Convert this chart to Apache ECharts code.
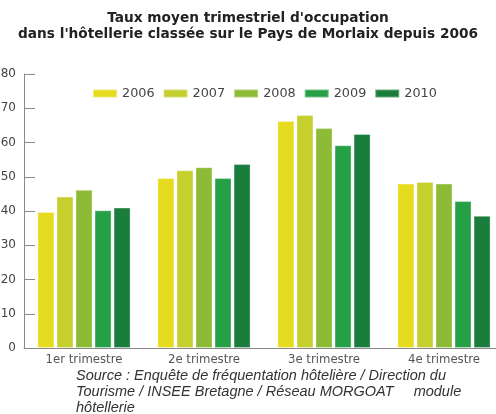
<!DOCTYPE html>
<html><head><meta charset="utf-8">
<script src="https://cdn.jsdelivr.net/npm/echarts@6/dist/echarts.min.js"></script>
<style>html,body{margin:0;padding:0;background:#fff}#c{width:496px;height:414px}</style>
</head><body><div id="c"></div>
<script>
const categories = ['1er trimestre','2e trimestre','3e trimestre','4e trimestre'];
const years = ['2006','2007','2008','2009','2010'];
const v2006 = [39.7, 49.6, 66.3, 48.0];
const v2007 = [44.2, 51.9, 68.0, 48.5];
const v2008 = [46.2, 52.8, 64.2, 48.0];
const v2009 = [40.2, 49.6, 59.2, 42.9];
const v2010 = [41.0, 53.7, 62.5, 38.6];
const yTicks = [0,10,20,30,40,50,60,70,80];
const colors = ['#e6dc1f','#c5cf2e','#8dbb35','#26a047','#1a7d3c'];
const seriesValues = [v2006, v2007, v2008, v2009, v2010];

const chart = echarts.init(document.getElementById('c'));
chart.setOption({
  animation: false,
  title: {
    text: "Taux moyen trimestriel d'occupation\ndans l'hôtellerie classée sur le Pays de Morlaix depuis 2006",
    left: 'center', top: 5, padding: [5, 5, 5, 13],
    textStyle: {fontFamily: 'DejaVu Sans', fontWeight: 'bold', fontSize: 13.7, color: '#222', lineHeight: 16}
  },
  legend: {
    data: years, top: 82, left: 87,
    itemWidth: 24, itemHeight: 8, itemGap: 8,
    icon: 'rect',
    textStyle: {fontFamily: 'DejaVu Sans', fontSize: 12.8, color: '#444'}
  },
  grid: {left: 24, top: 74, width: 480, height: 274, outerBoundsMode: 'none', containLabel: false},
  xAxis: {
    type: 'category', data: categories,
    axisLine: {lineStyle: {color: '#888'}},
    axisTick: {inside: true, length: 4, lineStyle: {color: '#888'}},
    axisLabel: {fontFamily: 'DejaVu Sans', fontSize: 11.7, color: '#555', margin: 6}
  },
  yAxis: {
    type: 'value', min: yTicks[0], max: yTicks[yTicks.length-1], interval: 10,
    axisLine: {show: true, lineStyle: {color: '#888'}},
    axisTick: {show: true, inside: true, length: 11, lineStyle: {color: '#888'}},
    splitLine: {show: false},
    axisLabel: {fontFamily: 'DejaVu Sans', fontSize: 12, color: '#444', margin: 8}
  },
  series: years.map((y, i) => ({
    name: y, type: 'bar', data: seriesValues[i],
    barWidth: 17, barGap: '12%',
    itemStyle: {color: colors[i], borderColor: 'rgba(255,255,255,0.35)', borderWidth: 1}
  })),
  graphic: [{
    type: 'text', left: 76, top: 368,
    style: {
      text: 'Source : Enquête de fréquentation hôtelière / Direction du\nTourisme / INSEE Bretagne / Réseau MORGOAT     module\nhôtellerie',
      fontFamily: 'Liberation Sans', fontStyle: 'italic', fontSize: 14.5, lineHeight: 16, fill: '#333'
    }
  }]
});
</script></body></html>
